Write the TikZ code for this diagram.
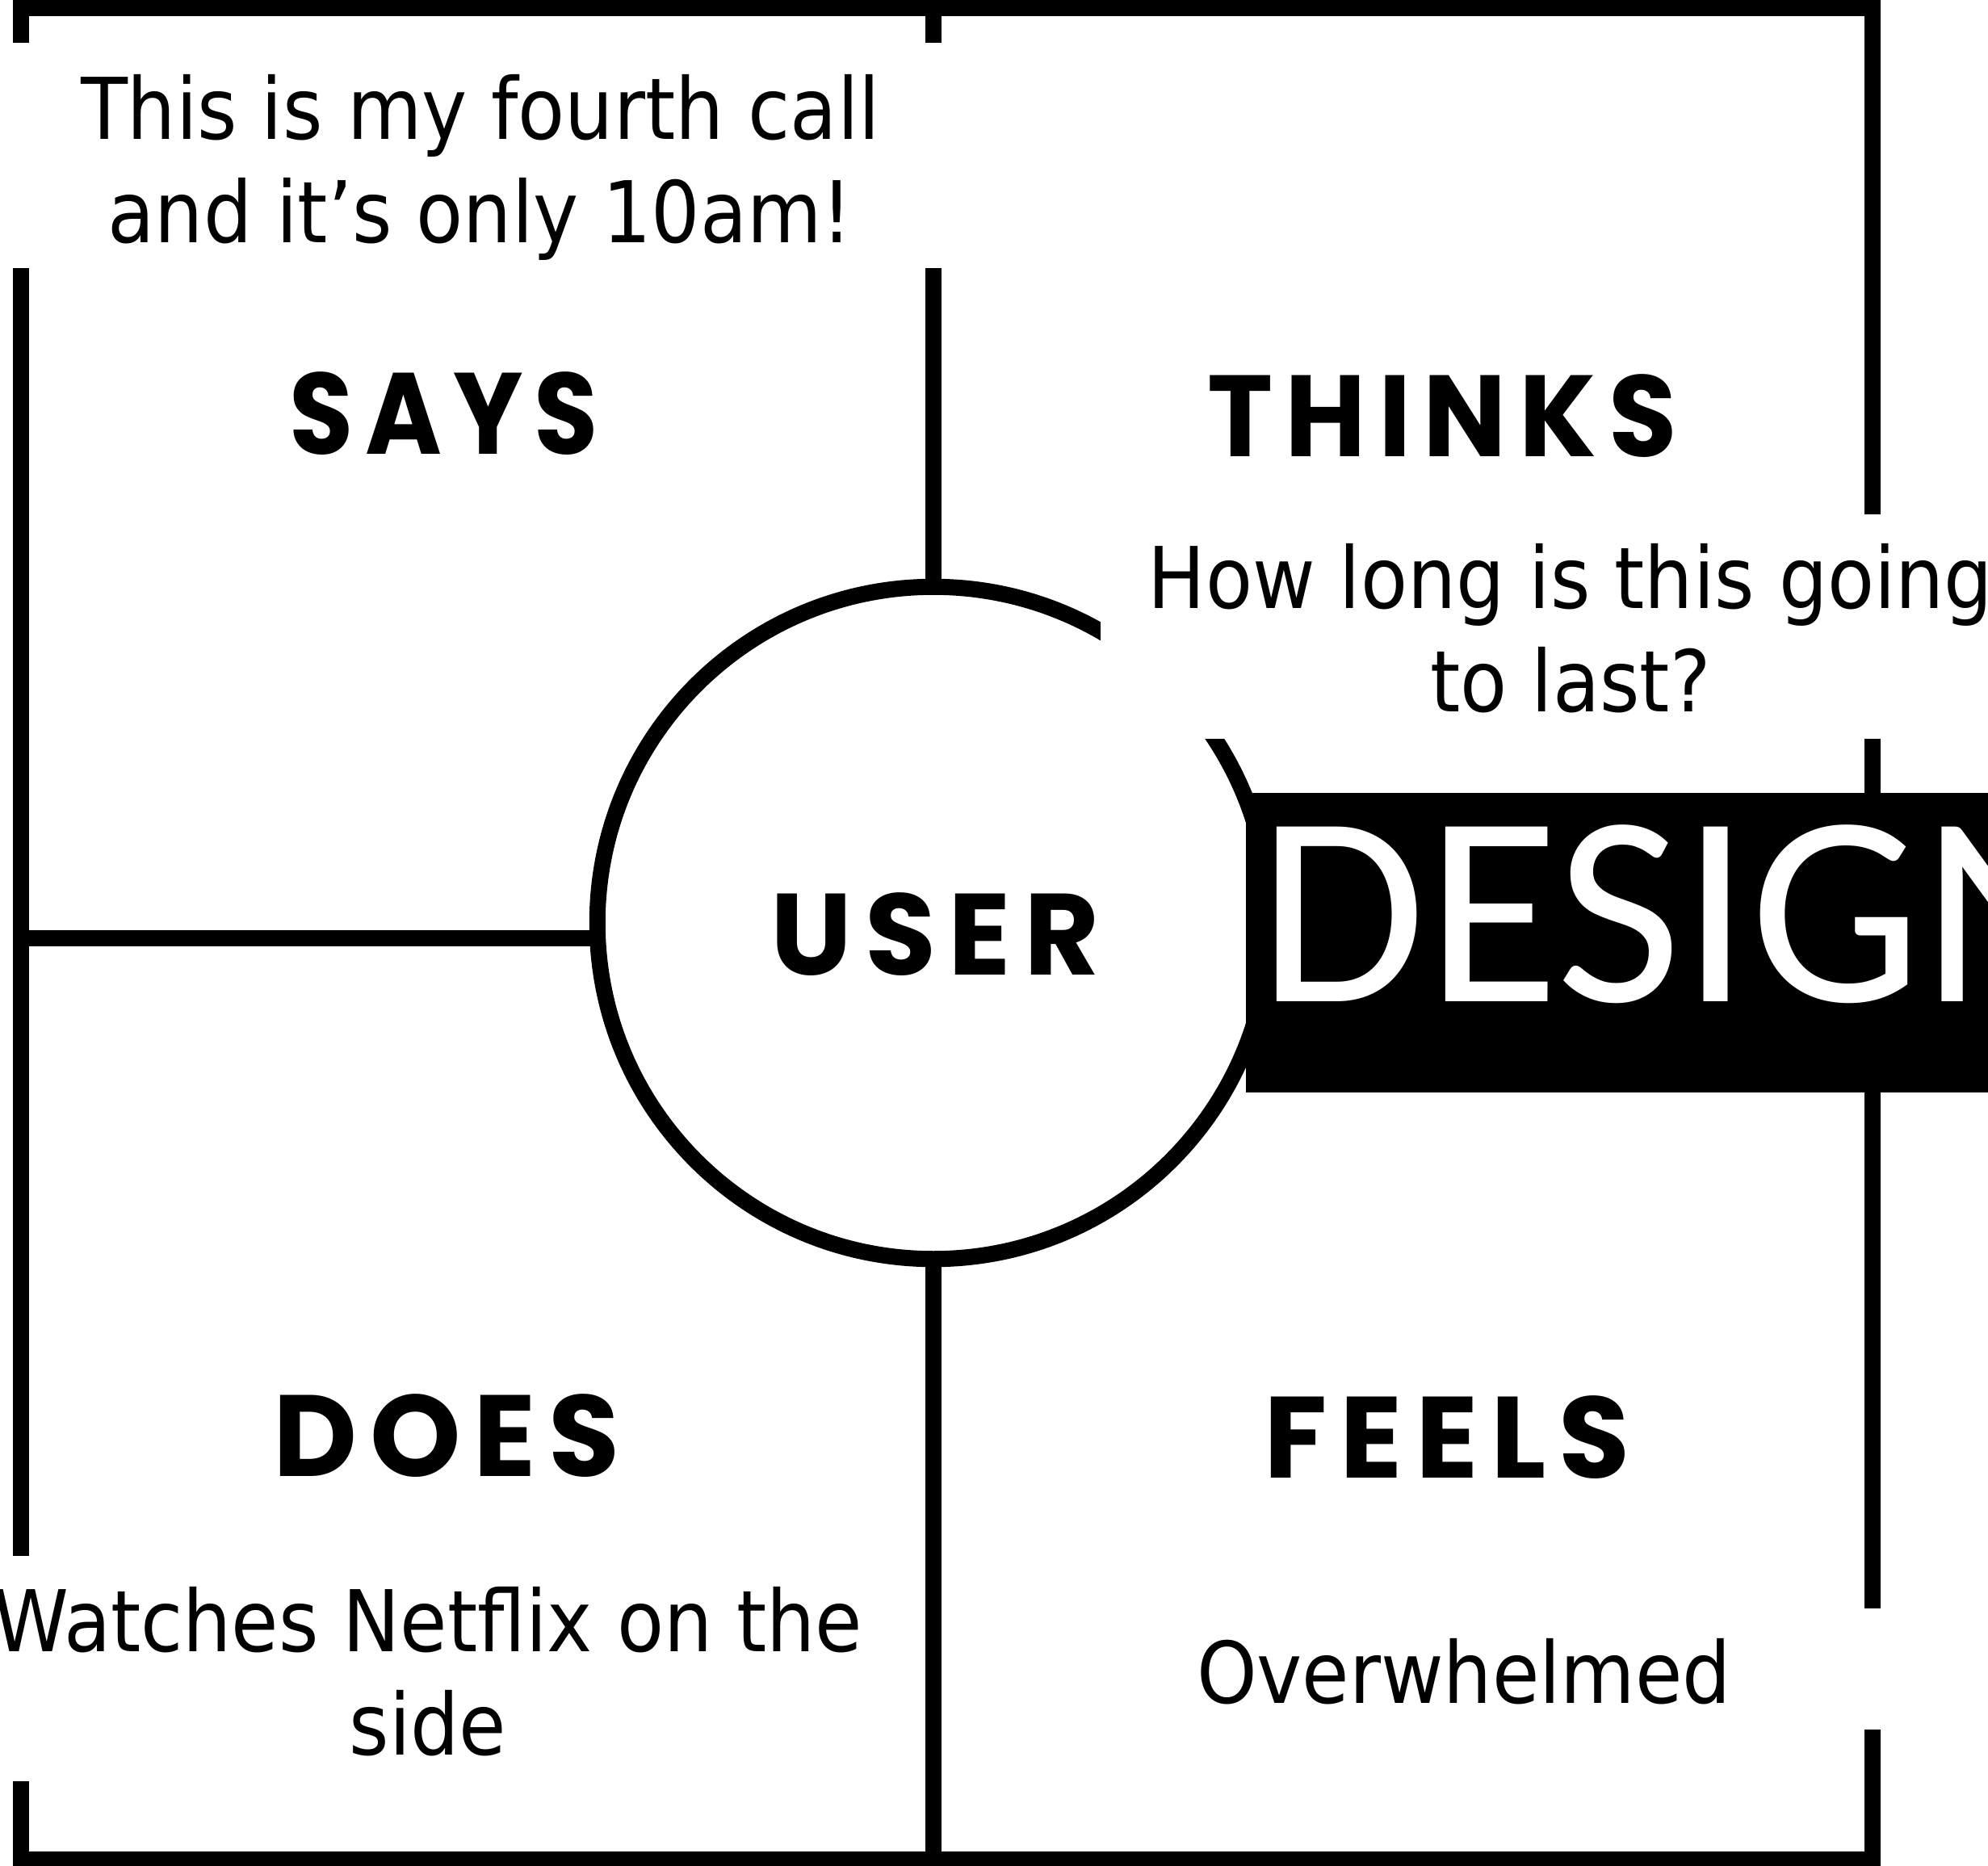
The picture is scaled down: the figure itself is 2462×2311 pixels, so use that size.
\documentclass[tikz,border=0pt]{standalone}
\usepackage{fontspec}
\newfontfamily\tagfont{Poppins}[LetterSpace=11]
\newfontfamily\notefont{DejaVu Sans Condensed}
\newfontfamily\signfont{Carlito}
\begin{document}
\begin{tikzpicture}[x=0.01cm, y=-0.01cm,
  rule/.style={line width=0.2cm, line cap=butt},
  tag/.style={font=\tagfont\bfseries\fontsize{40.7}{48}\selectfont, inner sep=0pt, anchor=base},
  note/.style={font=\notefont\fontsize{30}{36.4}\selectfont, inner sep=0pt, anchor=base},
  cover/.style={fill=white}]

\useasboundingbox (0,0) rectangle (2462,2311);
\fill[white] (0,0) rectangle (2462,2311);

% outer frame of the map
\node[draw, line width=0.2cm, inner sep=0pt, outer sep=0pt,
      minimum width=22.92cm, minimum height=22.92cm, anchor=north west] (frame) at (26,10) {};

% central circle
\node[draw, circle, line width=0.2cm, inner sep=0pt, outer sep=0pt,
      minimum size=8.32cm] (user) at (1156,1143) {};

% quadrant dividers
\draw[rule] (frame.north -| user.north) -- (user.north);
\draw[rule] (user.south) -- (frame.south -| user.south);
\coordinate (midleft) at (26,1162);
\draw[rule] (midleft) -- (user.west |- midleft);

% quadrant titles
\node[tag] (says)   at (550,562)   {\scalebox{0.9}[1]{SAYS}};
\node[tag] (thinks) at (1786,565)  {\scalebox{0.96}[1]{THINKS}};
\node[tag] (usertag) at (1158,1207) {USER};
\node[tag] (does)   at (553,1828)  {DOES};
\node[tag] (feels)  at (1792,1830) {FEELS};

% pasted notes
\fill[cover] (0,53) rectangle (1175,332);
\node[note] (callnote) at (595,172)
  {\begin{tabular}[t]{@{}c@{}}This is my fourth call\\and it’s only 10am!\end{tabular}};

\fill[cover] (1363,637) rectangle (2462,915);
\node[note] (lastnote) at (1945,753)
  {\begin{tabular}[t]{@{}c@{}}How long is this going\\to last?\end{tabular}};

\fill[cover] (0,1927) rectangle (1140,2206);
\node[note] (netflixnote) at (530,2045)
  {\begin{tabular}[t]{@{}c@{}}Watches Netflix on the\\side\end{tabular}};

\fill[cover] (1175,1992) rectangle (2400,2142);
\node[note] (feelnote) at (1813,2109) {Overwhelmed};

% black banner
\fill[black] (1543,982) rectangle (2462,1353);
\node[anchor=base west, inner sep=0pt, text=white,
      font=\signfont\fontsize{95.9}{115}\selectfont] (design) at (1558,1240) {DESIGN};
\end{tikzpicture}
\end{document}
